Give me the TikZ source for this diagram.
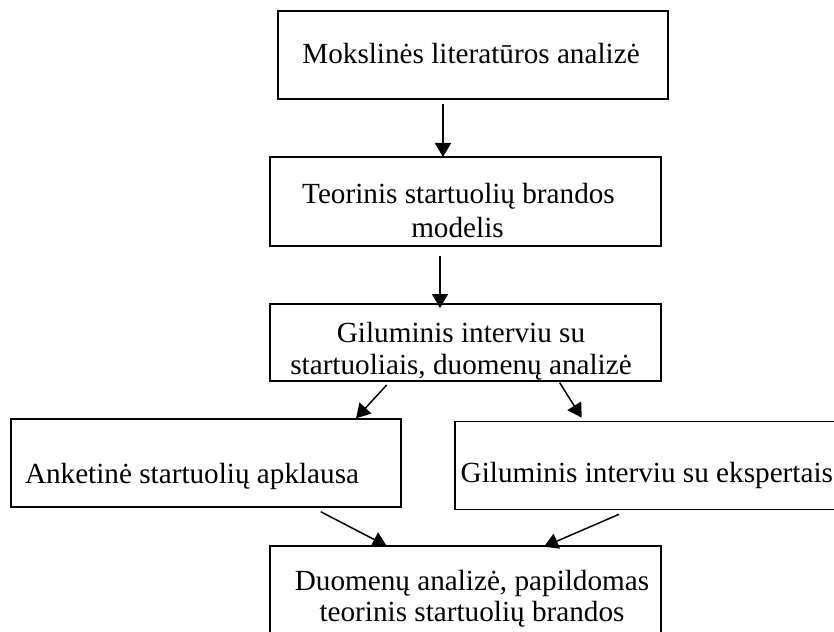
\documentclass[tikz,border=0pt]{standalone}
\usepackage{fontspec}
\setmainfont{Liberation Serif}
\usetikzlibrary{calc,arrows.meta}
\begin{document}
\begin{tikzpicture}[x=1pt,y=-1pt,
  box/.style={draw=black,line width=1.1pt,rectangle,inner sep=0pt,outer sep=0pt},
  lbl/.style={inner sep=0pt,outer sep=0pt,anchor=base,font=\fontsize{29.2}{32}\selectfont},
  lblw/.style={lbl,anchor=base west},
  arr/.style={line width=1.5pt,-{Triangle[length=14pt,width=16pt]}}]
\useasboundingbox (0,0) rectangle (834,631);
\fill[white] (0,0) rectangle (834,631);
\clip (0,0) rectangle (834,631);
% boxes
\node[box,minimum width=390pt,minimum height=88pt] (b1) at (473,55) {};
\node[box,minimum width=391pt,minimum height=89pt] (b2) at (465.5,201.5) {};
\node[box,minimum width=391pt,minimum height=77pt] (b3) at (465.5,342.5) {};
\node[box,minimum width=390pt,minimum height=88pt] (b4) at (206,463) {};
\node[box,minimum width=400pt,minimum height=87.6pt] (b5) at (655,465.5) {};
\node[box,minimum width=391pt,minimum height=114pt] (b6) at (465.5,603) {};
% texts
\node[lbl] (t1) at (471,63.3) {Mokslinės literatūros analizė};
\node[lbl] (t2a) at (458.5,203) {Teorinis startuolių brandos};
\node[lbl] (t2b) at (457.5,237) {modelis};
\node[lbl] (t3a) at (461,342) {Giluminis interviu su};
\node[lbl] (t3b) at (461,374) {startuoliais, duomenų analizė};
\node[lblw] (t4) at (25,483) {Anketinė startuolių apklausa};
\node[lblw] (t5) at (460.7,482.7) {Giluminis interviu su ekspertais};
\node[lbl] (t6a) at (472,590) {Duomenų analizė, papildomas};
\node[lbl] (t6b) at (472,621) {teorinis startuolių brandos};
% arrows
\draw[arr] ($(b1.south)+(-30,5)$) -- ($(b2.north)+(-22.5,0)$);
\draw[arr] ($(b2.south)+(-25.5,10)$) -- ($(b3.north)+(-25.5,4)$);
\draw[arr] ($(b3.south)+(-78.8,4)$) -- ($(b4.north)+(150,-0.7)$);
\draw[arr] ($(b3.south)+(94.2,1.7)$) -- ($(b5.north)+(-73.3,-4)$);
\draw[arr] ($(b4.south)+(114.7,4.7)$) -- ($(b6.north)+(-78.8,0)$);
\draw[arr] ($(b5.south)+(-36,5)$) -- ($(b6.north)+(78.5,0.7)$);
\end{tikzpicture}
\end{document}
